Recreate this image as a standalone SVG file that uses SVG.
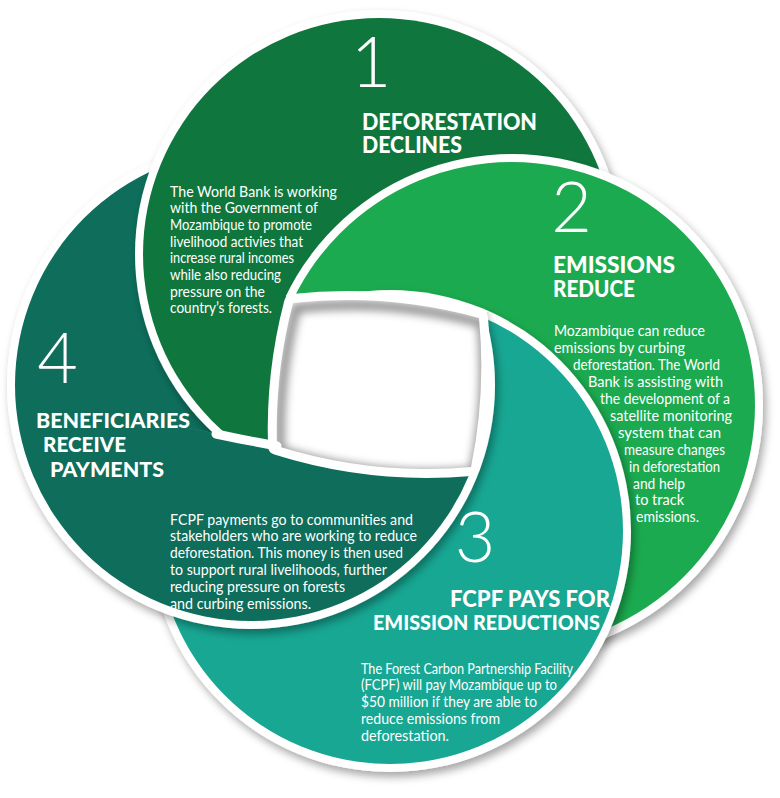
<svg xmlns="http://www.w3.org/2000/svg" xmlns:xlink="http://www.w3.org/1999/xlink" width="780" height="798" viewBox="0 0 780 798">
<defs>
<style>
.t{fill:#fff;font-family:Lato,"Open Sans","Liberation Sans",sans-serif}
.num{font-size:70px;font-weight:300;text-anchor:middle}
.h{font-size:23px;font-weight:900}
.h4{font-size:21px;font-weight:900}
.b{font-size:15px;font-weight:400}
</style>
<filter id="sh" x="-20%" y="-20%" width="140%" height="140%"><feDropShadow dx="3" dy="5" stdDeviation="4" flood-color="#000" flood-opacity="0.35"/></filter>
<filter id="blur" x="-30%" y="-30%" width="160%" height="160%"><feGaussianBlur stdDeviation="4"/></filter>
<circle id="r1" cx="379" cy="254" r="244" fill="#fff"/>
<circle id="f1" cx="379" cy="254" r="236" fill="#0F773D"/>
<circle id="r2" cx="512" cy="405" r="251" fill="#fff"/>
<circle id="f2" cx="512" cy="405" r="243" fill="#1BAA4F"/>
<circle id="r3" cx="390" cy="531" r="241" fill="#fff"/>
<circle id="f3" cx="390" cy="531" r="233" fill="#17A793"/>
<circle id="r4" cx="251" cy="385" r="244" fill="#fff"/>
<circle id="f4" cx="251" cy="385" r="236" fill="#0E6D5B"/>
<mask id="mTop" maskUnits="userSpaceOnUse" x="-800" y="-800" width="2400" height="2400"><polygon fill="#fff" points="383,385 293,303 -607,-517 1439,-517 1439,-352 479,318"/></mask>
<mask id="mLeft" maskUnits="userSpaceOnUse" x="-800" y="-800" width="2400" height="2400"><polygon fill="#fff" points="383,385 277,446 150,420 -600,267 -607,-517 293,303"/></mask>
<mask id="mRB" maskUnits="userSpaceOnUse" x="-800" y="-800" width="2400" height="2400"><polygon fill="#fff" points="383,385 479,318 1439,-352 1439,1400 -600,1400 -600,267 150,420 277,446"/></mask>
<path id="hole" d="M293,303 A500,500 0 0 1 479,318 A500,500 0 0 1 471,467 A500,500 0 0 1 277,446 A500,500 0 0 1 293,303 Z"/>
<clipPath id="holeClip"><use xlink:href="#hole"/></clipPath>
</defs>
<rect width="780" height="798" fill="#fff"/>
<g id="pinwheel">
  <g id="base">
    <use xlink:href="#r4"/><use xlink:href="#f4"/><use xlink:href="#r1"/><use xlink:href="#f1"/>
    <use xlink:href="#r2"/><use xlink:href="#f2"/><use xlink:href="#r3"/><use xlink:href="#f3"/>
  </g>
  <g mask="url(#mTop)">
    <use xlink:href="#r4" filter="url(#sh)"/><use xlink:href="#f4"/>
    <use xlink:href="#r1" filter="url(#sh)"/><use xlink:href="#f1"/>
    <use xlink:href="#r2" filter="url(#sh)"/><use xlink:href="#f2"/>
    <use xlink:href="#r3" filter="url(#sh)"/><use xlink:href="#f3"/>
  </g>
  <g mask="url(#mLeft)">
    <use xlink:href="#r2" filter="url(#sh)"/><use xlink:href="#f2"/>
    <use xlink:href="#r3" filter="url(#sh)"/><use xlink:href="#f3"/>
    <use xlink:href="#r4" filter="url(#sh)"/><use xlink:href="#f4"/>
    <use xlink:href="#r1" filter="url(#sh)"/><use xlink:href="#f1"/>
  </g>
  <g mask="url(#mRB)">
    <use xlink:href="#r1" filter="url(#sh)"/><use xlink:href="#f1"/>
    <use xlink:href="#r2" filter="url(#sh)"/><use xlink:href="#f2"/>
    <use xlink:href="#r3" filter="url(#sh)"/><use xlink:href="#f3"/>
    <use xlink:href="#r4" filter="url(#sh)"/><use xlink:href="#f4"/>
  </g>
  <g id="centre">
    <use xlink:href="#hole" fill="#fff" stroke="#fff" stroke-width="18" stroke-linejoin="round"/>
    <g clip-path="url(#holeClip)">
      <use xlink:href="#hole" fill="none" stroke="#000" stroke-opacity="0.42" stroke-width="10" filter="url(#blur)" transform="translate(3,5)"/>
    </g>
    <path d="M277,446 L240,439 L216,434" fill="none" stroke="#fff" stroke-width="9" stroke-linecap="round"/>
  </g>
</g>

<g id="node1">
  <text class="t num" x="371" y="87">1</text>
  <text class="t h" x="362" y="130" textLength="175" lengthAdjust="spacingAndGlyphs">DEFORESTATION</text>
  <text class="t h" x="362" y="153" textLength="100" lengthAdjust="spacingAndGlyphs">DECLINES</text>
  <text class="t b" x="170" y="196.5" textLength="167" lengthAdjust="spacingAndGlyphs">The World Bank is working</text>
  <text class="t b" x="170" y="213.2" textLength="148" lengthAdjust="spacingAndGlyphs">with the Government of</text>
  <text class="t b" x="170" y="229.9" textLength="142" lengthAdjust="spacingAndGlyphs">Mozambique to promote</text>
  <text class="t b" x="170" y="246.6" textLength="133" lengthAdjust="spacingAndGlyphs">livelihood activies that</text>
  <text class="t b" x="170" y="263.3" textLength="124" lengthAdjust="spacingAndGlyphs">increase rural incomes</text>
  <text class="t b" x="170" y="280" textLength="111" lengthAdjust="spacingAndGlyphs">while also reducing</text>
  <text class="t b" x="170" y="296.7" textLength="95" lengthAdjust="spacingAndGlyphs">pressure on the</text>
  <text class="t b" x="170" y="313.4" textLength="102" lengthAdjust="spacingAndGlyphs">country’s forests.</text>
</g>

<g id="node2">
  <text class="t num" x="571.5" y="232">2</text>
  <text class="t h" x="553" y="273" textLength="122" lengthAdjust="spacingAndGlyphs">EMISSIONS</text>
  <text class="t h" x="553" y="296.5" textLength="82" lengthAdjust="spacingAndGlyphs">REDUCE</text>
  <text class="t b" x="554" y="336" textLength="151" lengthAdjust="spacingAndGlyphs">Mozambique can reduce</text>
  <text class="t b" x="554" y="353" textLength="131" lengthAdjust="spacingAndGlyphs">emissions by curbing</text>
  <text class="t b" x="573" y="370" textLength="147" lengthAdjust="spacingAndGlyphs">deforestation. The World</text>
  <text class="t b" x="588" y="386.8" textLength="135" lengthAdjust="spacingAndGlyphs">Bank is assisting with</text>
  <text class="t b" x="600" y="403.8" textLength="130" lengthAdjust="spacingAndGlyphs">the development of a</text>
  <text class="t b" x="610" y="420.7" textLength="122" lengthAdjust="spacingAndGlyphs">satellite monitoring</text>
  <text class="t b" x="618" y="437.6" textLength="103" lengthAdjust="spacingAndGlyphs">system that can</text>
  <text class="t b" x="624" y="454.6" textLength="101" lengthAdjust="spacingAndGlyphs">measure changes</text>
  <text class="t b" x="629" y="471.5" textLength="91" lengthAdjust="spacingAndGlyphs">in deforestation</text>
  <text class="t b" x="633" y="488.5" textLength="52" lengthAdjust="spacingAndGlyphs">and help</text>
  <text class="t b" x="635" y="505.4" textLength="49" lengthAdjust="spacingAndGlyphs">to track</text>
  <text class="t b" x="636" y="522.3" textLength="63" lengthAdjust="spacingAndGlyphs">emissions.</text>
</g>

<g id="node3">
  <text class="t num" x="475" y="562">3</text>
  <text class="t h" x="450" y="607" textLength="160" lengthAdjust="spacingAndGlyphs">FCPF PAYS FOR</text>
  <text class="t h" x="373" y="630" textLength="227" lengthAdjust="spacingAndGlyphs" style="font-size:21px">EMISSION REDUCTIONS</text>
  <text class="t b" x="361" y="673.5" textLength="212" lengthAdjust="spacingAndGlyphs">The Forest Carbon Partnership Facility</text>
  <text class="t b" x="361" y="690.3" textLength="196" lengthAdjust="spacingAndGlyphs">(FCPF) will pay Mozambique up to</text>
  <text class="t b" x="361" y="707.1" textLength="176" lengthAdjust="spacingAndGlyphs">$50 million if they are able to</text>
  <text class="t b" x="361" y="723.9" textLength="139" lengthAdjust="spacingAndGlyphs">reduce emissions from</text>
  <text class="t b" x="361" y="740.7" textLength="88" lengthAdjust="spacingAndGlyphs">deforestation.</text>
</g>

<g id="node4">
  <text class="t num" x="57.5" y="383">4</text>
  <text class="t h4" x="36" y="428" textLength="154" lengthAdjust="spacingAndGlyphs">BENEFICIARIES</text>
  <text class="t h4" x="43" y="452" textLength="83" lengthAdjust="spacingAndGlyphs">RECEIVE</text>
  <text class="t h4" x="50" y="476.5" textLength="114" lengthAdjust="spacingAndGlyphs">PAYMENTS</text>
  <text class="t b" x="170" y="524.5" textLength="243" lengthAdjust="spacingAndGlyphs">FCPF payments go to communities and</text>
  <text class="t b" x="170" y="541.4" textLength="247" lengthAdjust="spacingAndGlyphs">stakeholders who are working to reduce</text>
  <text class="t b" x="170" y="558.3" textLength="233" lengthAdjust="spacingAndGlyphs">deforestation. This money is then used</text>
  <text class="t b" x="170" y="575.2" textLength="217" lengthAdjust="spacingAndGlyphs">to support rural livelihoods, further</text>
  <text class="t b" x="170" y="592.1" textLength="175" lengthAdjust="spacingAndGlyphs">reducing pressure on forests</text>
  <text class="t b" x="170" y="609" textLength="141" lengthAdjust="spacingAndGlyphs">and curbing emissions.</text>
</g>
</svg>
